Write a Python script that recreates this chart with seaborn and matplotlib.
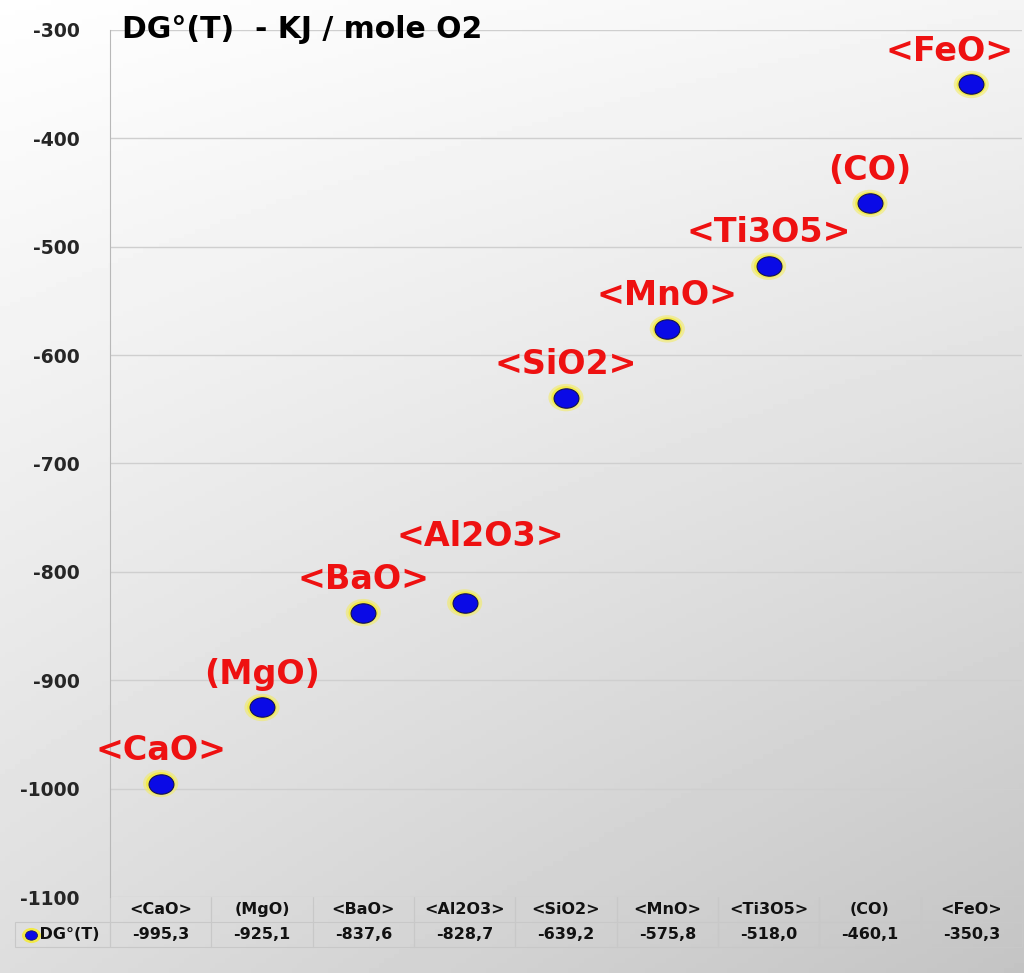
import numpy as np
import matplotlib
matplotlib.use("Agg")
import matplotlib.pyplot as plt
import seaborn as sns
from matplotlib.path import Path
from matplotlib.transforms import Affine2D

# data
oxides = ["<CaO>", "(MgO)", "<BaO>", "<Al2O3>", "<SiO2>", "<MnO>", "<Ti3O5>", "(CO)", "<FeO>"]
dg_values = [-995.3, -925.1, -837.6, -828.7, -639.2, -575.8, -518.0, -460.1, -350.3]
value_labels = ["-995,3", "-925,1", "-837,6", "-828,7", "-639,2", "-575,8", "-518,0", "-460,1", "-350,3"]
series_name = "DG°(T)"

sns.set_style("white")
plt.rcParams["font.family"] = ["DejaVu Sans"]
plt.rcParams["axes.unicode_minus"] = False

fig = plt.figure(figsize=(10.24, 9.73), dpi=100)

# gray gradient background like the office chart
bg = fig.add_axes([0, 0, 1, 1], zorder=-10)
yy, xx = np.mgrid[0:1:200j, 0:1:200j]
shade = 0.998 - 0.13 * yy - 0.04 * xx - 0.06 * xx * yy
bg.imshow(shade, cmap="gray", vmin=0, vmax=1, aspect="auto", extent=[0, 1, 1, 0])
bg.axis("off")

ax = fig.add_axes([0.1074, 0.0781, 0.8906, 0.8911])
ax.patch.set_alpha(0)

# slightly flattened dot marker
ell = Path.unit_circle().transformed(Affine2D().scale(1.0, 0.78))

# yellow glow, then the blue dot
sns.scatterplot(x=oxides, y=dg_values, ax=ax, marker=ell, s=640,
                color="#f4ec5a", edgecolor="none", alpha=0.55, zorder=3, legend=False)
sns.scatterplot(x=oxides, y=dg_values, ax=ax, marker=ell, s=450,
                color="#f2ea4a", edgecolor="none", zorder=3, legend=False)
sns.scatterplot(x=oxides, y=dg_values, ax=ax, marker=ell, s=320,
                color="#0a0ae6", edgecolor="#10105a", linewidth=0.8, zorder=4, legend=False)

# a few labels were nudged in the original to clear neighbours / the edge
nudge = {"<Al2O3>": (11, 48), "<FeO>": (-16, 24)}
for i, (name, v) in enumerate(zip(oxides, dg_values)):
    dx, dy = nudge.get(name, (0, 24))
    ax.annotate(name, (i, v), xytext=(dx, dy), textcoords="offset points",
                ha="center", va="center", color="#ee1111", fontsize=24,
                fontweight="bold", zorder=5)

ax.set_xlim(-0.5, len(oxides) - 0.5)
ax.set_ylim(-1100, -300)
ax.set_yticks(np.arange(-1100, -299, 100))
ax.yaxis.grid(True, color="#cfcfcf", linewidth=1)
ax.set_axisbelow(True)
ax.tick_params(axis="y", length=6, color="#b0b0b0", pad=16, labelsize=13.5)
for lab in ax.get_yticklabels():
    lab.set_fontweight("bold")
ax.set_xticks([])
ax.set_xlabel("")
ax.set_ylabel("")
for side in ["top", "right", "bottom"]:
    ax.spines[side].set_visible(False)
ax.spines["left"].set_color("#b8b8b8")

ax.text(0.013, 1.0, "DG°(T)  - KJ / mole O2", transform=ax.transAxes,
        ha="left", va="center", fontsize=21.5, fontweight="bold", color="black")

# data table under the plot (first column holds the legend key)
col_w = 1.0 / len(oxides)
lab_w = 0.104
tbl = ax.table(cellText=[[""] + oxides, ["    " + series_name] + value_labels],
               colWidths=[lab_w] + [col_w] * len(oxides), cellLoc="center",
               bbox=[-lab_w, -0.0577, 1 + lab_w, 0.0577])
tbl.auto_set_font_size(False)
for (r, c), cell in tbl.get_celld().items():
    cell.set_facecolor("none")
    cell.set_edgecolor("#c8c8c8")
    cell.set_linewidth(0.8)
    txt = cell.get_text()
    txt.set_fontsize(11.5)
    txt.set_fontweight("bold")
    txt.set_color("#111111")
    if r == 0:
        cell.visible_edges = "LR" if c > 0 else ""
        txt.set_fontweight("semibold")
    if c == 0 and r == 1:
        txt.set_horizontalalignment("left")
        cell.PAD = 0.02

# legend key in the table
ax.scatter([-0.087], [-0.0433], transform=ax.transAxes, marker=ell, s=160,
           color="#f2ea4a", clip_on=False, zorder=6)
ax.scatter([-0.087], [-0.0433], transform=ax.transAxes, marker=ell, s=75,
           color="#0a0ae6", edgecolor="#10105a", linewidth=0.5, clip_on=False, zorder=7)

fig.savefig("out.png", dpi=100)
